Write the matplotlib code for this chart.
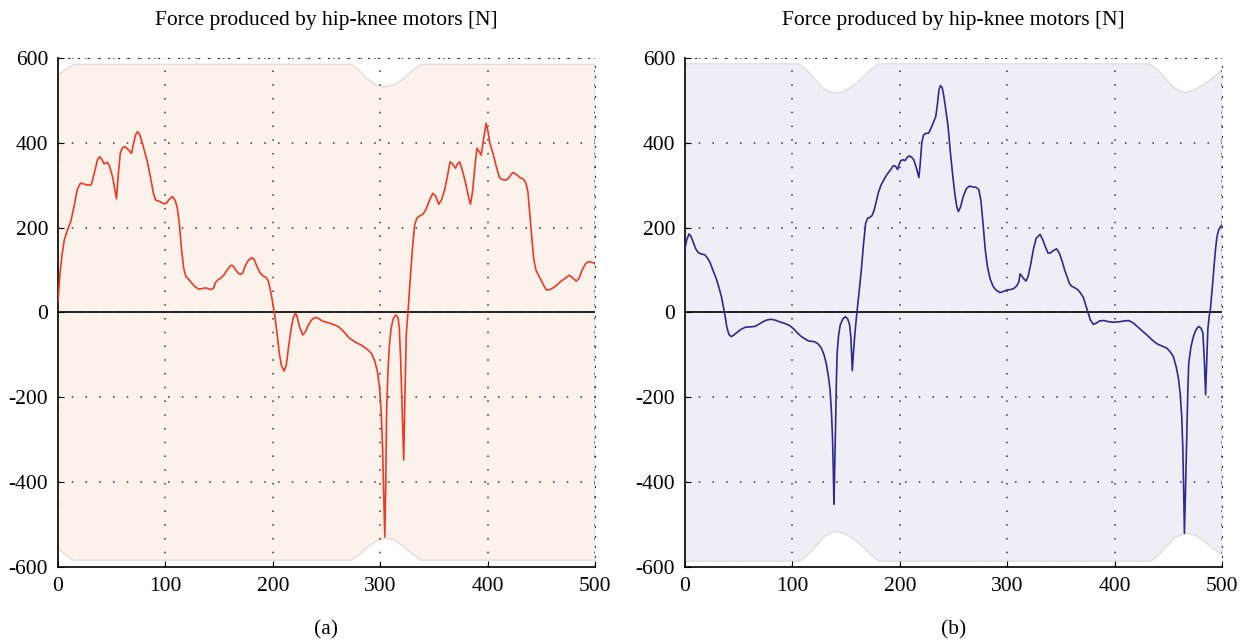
import numpy as np
import matplotlib.pyplot as plt

plt.rcParams['font.family'] = ['Liberation Serif', 'DejaVu Serif']
plt.rcParams['axes.unicode_minus'] = False

# (a) force curve
xa = [0, 2, 4, 6, 9, 12, 15, 18, 21, 24, 28, 31, 34, 37, 39, 41, 43, 46, 48, 51,
      53, 54.5, 56, 58, 60, 62.5, 65, 68.5, 70.5, 72.5, 74, 76, 79, 83, 86, 89, 91, 95, 99, 101,
      104, 106.5, 109, 111, 113, 115, 117, 119, 122, 125, 128, 131, 134, 137, 140, 143, 145, 146.5, 149, 152,
      155, 158, 161, 163, 165, 168, 170, 172, 174, 177, 180, 182.5, 185, 188, 191, 194, 196, 198, 200, 202,
      204, 206, 208, 210.5, 212.5, 214.5, 217, 219, 221, 222.5, 225, 228, 230.5, 233, 236, 239, 242, 246, 250, 256,
      261, 266, 271, 277, 283, 288, 292, 295, 297.5, 299.5, 301, 302.2, 303.2, 304.3, 305.2, 306, 307.2, 308.5, 310, 312,
      314.5, 316.5, 317.8, 319, 320.3, 321.9, 323, 324.3, 326, 328, 330, 332, 334, 337, 340, 343, 346, 349, 351.5, 354.5,
      357, 360, 362.5, 365, 367.5, 370, 372, 374, 376.5, 379.5, 382, 384, 386, 388, 390, 392, 394, 396, 398.6, 400.5,
      402, 405, 408, 411, 414, 417, 420, 422, 424, 427, 430, 433, 435.5, 437.5, 439, 441, 443, 445, 447.5, 450,
      453, 455, 458, 461, 465, 468, 472, 476, 479, 482.5, 485, 488, 491, 494, 497, 500]
ya = [25, 95, 140, 172, 195, 215, 250, 290, 305, 303, 300, 301, 330, 362, 367, 360, 350, 354, 345, 318,
      290, 268, 320, 375, 388, 391, 385, 375, 400, 420, 426, 420, 395, 358, 320, 280, 265, 261, 256, 258,
      268, 273, 265, 248, 210, 150, 105, 85, 77, 68, 60, 55, 56, 58, 56, 54, 58, 70, 77, 82,
      90, 102, 111, 110, 102, 92, 90, 93, 108, 122, 129, 126, 110, 94, 86, 82, 73, 50, 22, -10,
      -50, -95, -125, -138, -125, -85, -40, -12, -2, -8, -35, -53, -45, -30, -18, -12, -13, -20, -23, -28,
      -33, -45, -60, -70, -78, -87, -97, -115, -140, -180, -240, -320, -420, -529, -400, -230, -140, -80, -40, -15,
      -6, -12, -35, -110, -220, -348, -200, -50, 5, 80, 150, 205, 222, 228, 232, 245, 265, 281, 275, 255,
      265, 289, 320, 355, 350, 340, 350, 355, 335, 305, 275, 255, 285, 340, 387, 380, 371, 405, 446, 425,
      400, 375, 345, 318, 313, 312, 318, 326, 330, 325, 318, 315, 306, 285, 240, 180, 125, 100, 87, 75,
      60, 53, 54, 58, 66, 73, 80, 88, 82, 74, 80, 100, 114, 120, 118, 116]

# (b) force curve
xb = [0, 1.5, 3.7, 5.5, 7.5, 10, 12.5, 15, 18.5, 21, 23, 26, 29, 31.5, 34, 36, 37.5, 39, 41, 43,
      45, 48, 52, 56, 61, 65, 68, 72.5, 76, 80, 84, 88, 93, 97.5, 101, 105, 108, 111.5, 115, 120.5,
      124, 127, 129.5, 131.5, 133.5, 135, 136.3, 137.3, 138.1, 138.7, 139.4, 140.2, 141, 141.7, 143, 144.5, 147, 149.3, 151.5, 153.3,
      154.5, 155.8, 157, 158.2, 160, 162, 164.2, 166.2, 168.2, 170, 172, 174, 176, 178, 180, 182.5, 185, 188, 191, 194,
      196, 198, 199.5, 201, 203, 205, 207, 209, 211, 213, 215, 217.8, 219, 220.5, 222, 224, 227, 230, 233.5, 235,
      236.5, 237.8, 239.5, 241, 243, 245, 247, 249.5, 251.5, 253, 254.5, 256.5, 259, 262, 265, 268, 271, 273.5, 275.5, 277.5,
      279.5, 281.5, 284, 287, 290, 293.3, 296, 299.5, 303, 306, 309, 310.8, 312, 313.5, 315.3, 317.5, 319.5, 322, 324.5, 327,
      330.6, 333, 335.5, 338, 340, 343, 346, 348.5, 351, 353.5, 356, 358, 360, 363, 366, 368.5, 371, 373, 375.5, 377.5,
      380.2, 383, 386, 390, 395, 399, 404, 409, 413, 417, 420.6, 425, 430, 435, 439.5, 444, 448.5, 451.5, 454.7, 457.5,
      459.4, 461, 462.5, 463.5, 464.3, 465, 466, 467.2, 468.2, 469, 471, 473, 475.5, 478.1, 480.5, 482.2, 483.5, 484.7, 485.8, 486.8,
      488, 489.1, 491, 492.8, 494, 495.3, 497, 498.5, 500]
yb = [149, 170, 185, 180, 167, 150, 141, 138, 136, 128, 120, 100, 81, 60, 37, 10, -10, -35, -52, -57,
      -54, -48, -40, -35, -34, -33, -29, -22, -18, -16, -18, -22, -26, -31, -38, -49, -56, -62, -67, -69,
      -74, -84, -100, -120, -150, -180, -230, -290, -370, -452, -370, -270, -160, -95, -55, -30, -15, -10, -15, -29,
      -60, -137, -90, -50, -2, 45, 100, 160, 210, 222, 224, 228, 240, 260, 282, 300, 312, 325, 335, 346,
      345, 337, 350, 358, 360, 358, 366, 369, 366, 360, 345, 318, 350, 400, 418, 422, 423, 440, 462, 490,
      525, 535, 530, 510, 475, 438, 380, 318, 275, 250, 238, 248, 273, 292, 298, 296, 295, 290, 265, 210,
      150, 110, 80, 61, 52, 47, 49, 53, 54, 56, 63, 72, 91, 86, 80, 74, 85, 115, 150, 175,
      184, 172, 155, 140, 140, 146, 150, 140, 122, 100, 82, 68, 62, 58, 53, 45, 35, 18, -2, -18,
      -28, -25, -20, -19, -22, -23, -22, -20, -19, -24, -32, -42, -53, -65, -74, -79, -84, -92, -104, -130,
      -155, -190, -246, -320, -420, -521, -420, -285, -180, -120, -82, -60, -42, -33, -37, -49, -110, -194, -110, -40,
      -10, 6, 60, 116, 150, 179, 195, 202, 206]

# shaded band outlines
xa_up = [0, 15, 273, 280, 287, 295, 303, 312, 320, 329, 338, 500]
ya_up = [560, 585, 585, 572, 553, 538, 532, 536, 548, 568, 585, 585]
xa_lo = [0, 14, 273, 281, 289, 297, 305, 313, 321, 330, 338, 500]
ya_lo = [-557, -584, -584, -570, -552, -538, -531, -536, -550, -569, -584, -584]

xb_up = [0, 106, 113, 121, 129, 138, 147, 156, 165, 173, 180, 433, 440, 448, 456, 465, 474, 483, 492, 500]
yb_up = [586, 586, 572, 550, 528, 517, 520, 533, 552, 572, 586, 586, 572, 550, 528, 518, 524, 538, 555, 572]
xb_lo = [0, 107, 114, 122, 130, 139, 148, 157, 166, 174, 180, 434, 441, 449, 457, 466, 475, 484, 492, 500]
yb_lo = [-586, -586, -572, -550, -528, -516, -520, -534, -553, -573, -586, -586, -572, -550, -530, -519, -525, -540, -557, -572]

title = "Force produced by hip-knee motors [N]"
dots = (0, (1, 8))

fig = plt.figure(figsize=(12.49, 6.44), dpi=100)
ax1 = fig.add_axes([0.0464, 0.1196, 0.43, 0.7904])
ax2 = fig.add_axes([0.5484, 0.1196, 0.43, 0.7904])

panels = [
    (ax1, xa, ya, xa_up, ya_up, xa_lo, ya_lo, "#fbf2ec", "#ee3a22", "(a)"),
    (ax2, xb, yb, xb_up, yb_up, xb_lo, yb_lo, "#efeef6", "#2f2a92", "(b)"),
]

for ax, x, y, xu, yu, xl, yl, fc, lc, lab in panels:
    ax.fill(np.r_[xu, xl[::-1]], np.r_[yu, yl[::-1]], facecolor=fc,
            edgecolor="#e2dcdc", linewidth=1.0, zorder=0)
    ax.axhline(0, color="#111111", linewidth=1.3, zorder=2)
    ax.plot(x, y, color=lc, linewidth=1.2, zorder=3)
    ax.set_xlim(0, 500)
    ax.set_ylim(-600, 600)
    ax.set_xticks(np.arange(0, 501, 100))
    ax.set_yticks(np.arange(-600, 601, 200))
    ax.grid(True, color="#333333", linestyle=dots, linewidth=1.1)
    ax.set_axisbelow(False)
    for s in ["top", "right"]:
        ax.spines[s].set_linestyle(dots)
        ax.spines[s].set_color("#333333")
    for s in ["left", "bottom"]:
        ax.spines[s].set_linewidth(1.3)
        ax.spines[s].set_color("#111111")
    ax.tick_params(direction="in", length=4, labelsize=15.5, pad=7)
    ax.set_title(title, fontsize=15.5, pad=24)
    ax.text(0.5, -0.105, lab, transform=ax.transAxes, ha="center", va="top", fontsize=15.5)

fig.savefig("out.png", dpi=100)
